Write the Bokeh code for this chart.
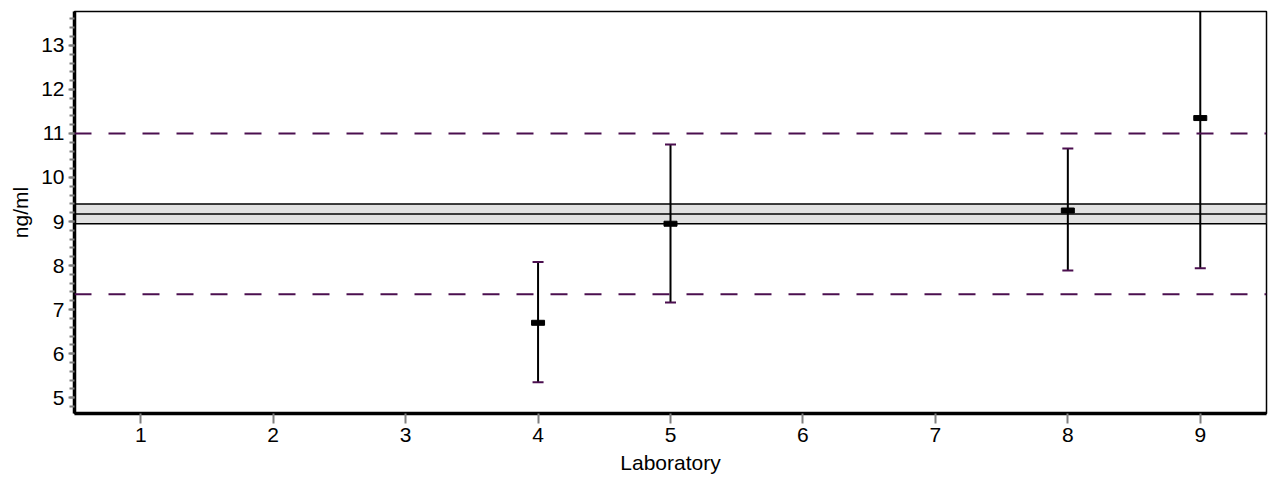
from bokeh.plotting import figure
from bokeh.models import Range1d, Span, BoxAnnotation, FixedTicker, ColumnDataSource
from bokeh.embed import file_html
from bokeh.resources import INLINE

labs = [4, 5, 8, 9]
means = [6.70, 8.95, 9.25, 11.35]
lower = [5.35, 7.16, 7.89, 7.94]
upper = [8.08, 10.75, 10.66, 14.75]

band_low = 8.95
band_mid = 9.17
band_high = 9.40
limit_low = 7.35
limit_high = 11.0

x_ticks = [1, 2, 3, 4, 5, 6, 7, 8, 9]

PURPLE = "#4b0f4f"

p = figure(width=1271, height=485, output_backend="svg", toolbar_location=None,
           x_range=Range1d(0.5, 9.5), y_range=Range1d(4.64, 13.77),
           min_border_left=74, min_border_right=5, min_border_top=11, min_border_bottom=72)
p.grid.visible = False
p.outline_line_color = "black"
p.outline_line_width = 1.5

# band
p.add_layout(BoxAnnotation(bottom=band_low, top=band_high, fill_color="#e1e1e1", fill_alpha=1,
                           line_color="black", line_alpha=1, line_width=1.5, level="underlay"))
p.add_layout(Span(location=band_mid, dimension="width", line_color="black", line_width=1.5))
for v in (limit_low, limit_high):
    p.add_layout(Span(location=v, dimension="width", line_color=PURPLE, line_width=2,
                      line_dash="17 17"))

src = ColumnDataSource(dict(x=labs, m=means, lo=lower, hi=upper))
p.segment(x0="x", y0="lo", x1="x", y1="hi", source=src, line_color="black", line_width=2)
p.scatter(x="x", y="lo", source=src, marker="dash", size=11, line_color=PURPLE, line_width=2)
p.scatter(x="x", y="hi", source=src, marker="dash", size=11, line_color=PURPLE, line_width=2)
p.rect(x="x", y="m", width=13, height=5, width_units="screen", height_units="screen",
       source=src, fill_color="black", line_color="black", line_width=1)

FONT = "Liberation Sans"
p.xaxis.ticker = FixedTicker(ticks=x_ticks)
p.yaxis.ticker = FixedTicker(ticks=[5, 6, 7, 8, 9, 10, 11, 12, 13],
                             minor_ticks=[round(4.6 + 0.2 * i, 1) for i in range(47)])
for ax in (p.xaxis[0], p.yaxis[0]):
    ax.axis_line_width = 3.5
    ax.axis_line_color = "black"
    ax.major_tick_line_color = "#808080"
    ax.major_tick_line_width = 2
    ax.major_tick_in = 0
    ax.major_tick_out = 8
    ax.minor_tick_line_color = "#808080"
    ax.minor_tick_line_width = 2
    ax.minor_tick_in = 0
    ax.minor_tick_out = 5
    ax.major_label_text_font = FONT
    ax.major_label_text_font_size = "21px"
    ax.major_label_text_color = "black"
    ax.axis_label_text_font = FONT
    ax.axis_label_text_font_size = "21px"
    ax.axis_label_text_font_style = "normal"
    ax.axis_label_text_color = "black"
p.xaxis.minor_tick_line_color = None
p.yaxis.major_tick_out = 6
p.xaxis.major_tick_out = 10
p.xaxis.axis_label = "Laboratory"
p.yaxis.axis_label = "ng/ml"
p.xaxis.major_label_standoff = 4
p.yaxis.major_label_standoff = 4
p.xaxis.axis_label_standoff = 6
p.yaxis.axis_label_standoff = 6

open("out.html", "w").write(file_html(p, INLINE))
